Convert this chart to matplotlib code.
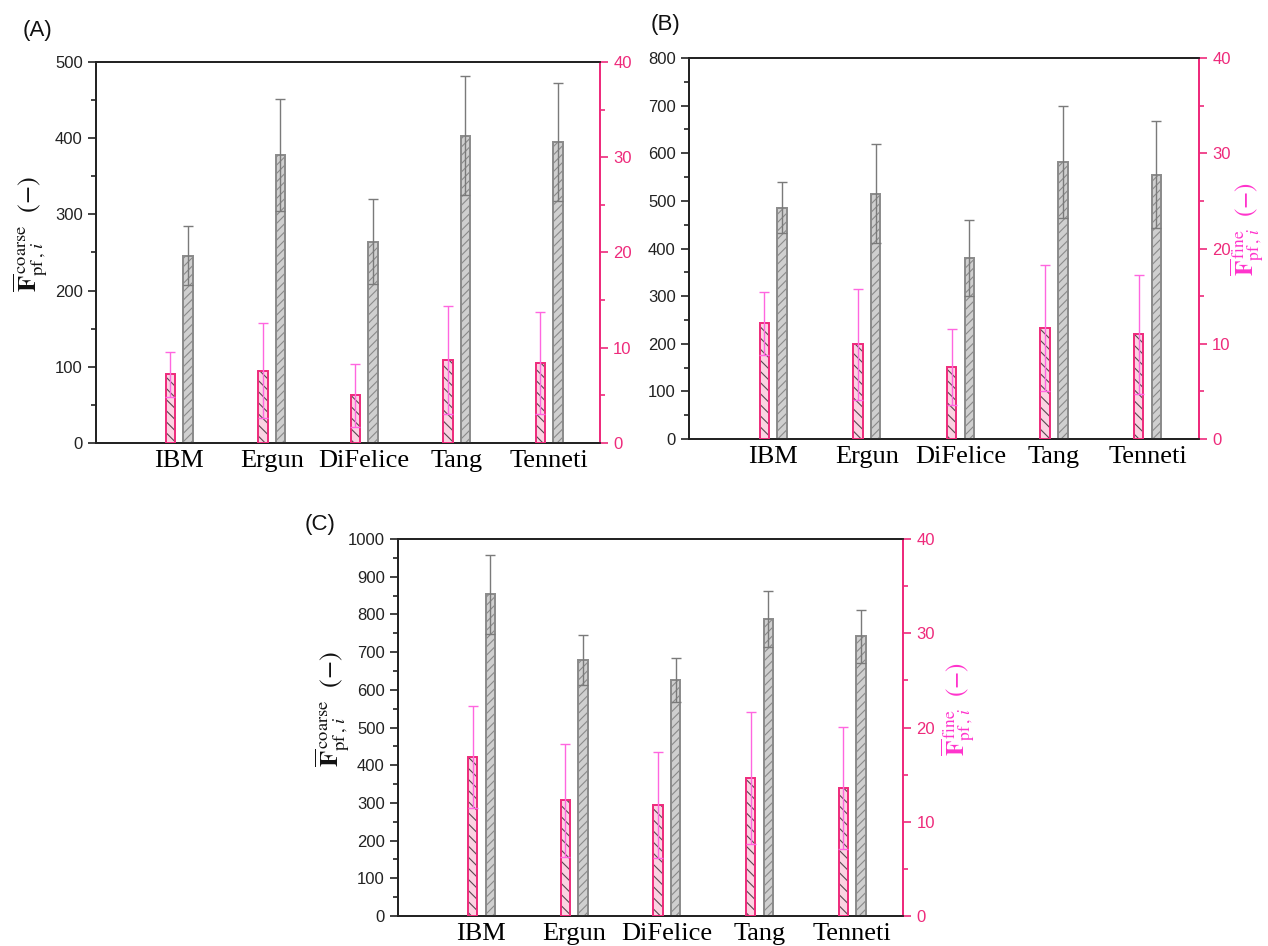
import matplotlib
matplotlib.use("Agg")
import matplotlib.pyplot as plt
import numpy as np

plt.rcParams["mathtext.fontset"] = "stix"
plt.rcParams["font.family"] = ["Liberation Sans", "DejaVu Sans"]
plt.rcParams["hatch.linewidth"] = 0.8

models = ["IBM", "Ergun", "DiFelice", "Tang", "Tenneti"]

# (A) coarse (left axis) and fine (right axis) forces
coarse_a = [246, 378, 264, 403, 395]
coarse_a_err = [39, 74, 56, 78, 77]
fine_a = [7.2, 7.6, 5.0, 8.7, 8.4]
fine_a_err = [2.4, 5.0, 3.3, 5.7, 5.4]

# (B)
coarse_b = [486, 515, 380, 582, 555]
coarse_b_err = [54, 104, 79, 118, 112]
fine_b = [12.15, 9.95, 7.55, 11.65, 11.0]
fine_b_err = [3.3, 5.8, 4.0, 6.6, 6.25]

# (C)
coarse_c = [853, 680, 627, 788, 742]
coarse_c_err = [104, 66, 58, 74, 71]
fine_c = [16.9, 12.3, 11.8, 14.6, 13.6]
fine_c_err = [5.4, 6.0, 5.6, 7.0, 6.5]

left_limits = [500, 800, 1000]
right_limit = 40

PINK = "#EE2A7B"
PINK_FILL = "#FBD3E2"
PINK_HATCH = "#5a4650"
PINK_ERR = "#FF66E0"
GRAY_FILL = "#cfcfcf"
GRAY_HATCH = "#8a8a8a"
GRAY_EDGE = "#8a8a8a"
GRAY_ERR = "#7a7a7a"

coarse_label = r"$\overline{\mathbf{F}}_{\mathrm{pf}\,,\,\mathit{i}}^{\,\mathrm{coarse}}\ \ (-)$"
fine_label = r"$\overline{\mathbf{F}}_{\mathrm{pf}\,,\,\mathit{i}}^{\,\mathrm{fine}}\ \ (-)$"

fig = plt.figure(figsize=(12.68, 9.46), dpi=100)


def hatched_bars(ax, x, h, fill, hatch, hatch_color, edge):
    ax.bar(x, h, width=0.1, color=fill, edgecolor=hatch_color, linewidth=0,
           hatch=hatch, zorder=2)
    ax.bar(x, h, width=0.1, facecolor="none", edgecolor=edge, linewidth=1.4,
           zorder=3)


def panel(rect, tag, tag_xy, coarse, coarse_err, fine, fine_err, ymax,
          left_label=True, right_label=True, right_label_x=1.072):
    ax = fig.add_axes(rect)
    ax2 = ax.twinx()
    x = np.arange(1, len(models) + 1)

    hatched_bars(ax, x + 0.095, coarse, GRAY_FILL, "////", GRAY_HATCH, GRAY_EDGE)
    ax.errorbar(x + 0.095, coarse, yerr=coarse_err, fmt="none", ecolor=GRAY_ERR,
                elinewidth=1.0, capsize=3.5, capthick=1.0, zorder=4)

    hatched_bars(ax2, x - 0.095, fine, PINK_FILL, "\\\\\\", PINK_HATCH, PINK)
    ax2.errorbar(x - 0.095, fine, yerr=fine_err, fmt="none", ecolor=PINK_ERR,
                 elinewidth=1.0, capsize=3.5, capthick=1.0, zorder=4)

    ax.set_xlim(0.1, 5.55)
    ax.set_ylim(0, ymax)
    ax2.set_ylim(0, right_limit)

    ax.set_xticks(x)
    ax.set_xticklabels(models, family="Liberation Serif", fontsize=19)
    ax.tick_params(axis="x", length=0, pad=5)

    ax.set_yticks(np.arange(0, ymax + 1, 100))
    ax.set_yticks(np.arange(50, ymax, 100), minor=True)
    ax.tick_params(axis="y", which="major", direction="out", length=6,
                   width=1.2, labelsize=12, colors="#222222")
    ax.tick_params(axis="y", which="minor", direction="out", length=3.5,
                   width=1.2, colors="#222222")

    ax2.set_yticks(np.arange(0, right_limit + 1, 10))
    ax2.set_yticks(np.arange(5, right_limit, 10), minor=True)
    ax2.tick_params(axis="y", which="major", direction="out", length=6,
                    width=1.2, labelsize=12, colors=PINK)
    ax2.tick_params(axis="y", which="minor", direction="out", length=3.5,
                    width=1.2, colors=PINK)

    for a in (ax, ax2):
        for s in ("left", "bottom", "top"):
            a.spines[s].set_color("#222222")
            a.spines[s].set_linewidth(1.3)
        a.spines["right"].set_color(PINK)
        a.spines["right"].set_linewidth(1.3)

    if left_label:
        ax.set_ylabel(coarse_label, fontsize=19, color="#111111")
        ax.yaxis.set_label_coords(-0.092, 0.55)
    if right_label:
        ax2.set_ylabel(fine_label, fontsize=18, color="#FF33CC", rotation=90)
        ax2.yaxis.set_label_coords(right_label_x, 0.55)

    ax.text(tag_xy[0], tag_xy[1], tag, transform=ax.transAxes, fontsize=16,
            ha="left", va="bottom", color="#111111")
    return ax, ax2


panel([0.0757, 0.5317, 0.3975, 0.4028], "(A)", (-0.145, 1.055),
      coarse_a, coarse_a_err, fine_a, fine_a_err, left_limits[0],
      left_label=True, right_label=False)
panel([0.5434, 0.5359, 0.4022, 0.4028], "(B)", (-0.076, 1.06),
      coarse_b, coarse_b_err, fine_b, fine_b_err, left_limits[1],
      left_label=False, right_label=True, right_label_x=1.058)
panel([0.3139, 0.0317, 0.3983, 0.3985], "(C)", (-0.184, 1.01),
      coarse_c, coarse_c_err, fine_c, fine_c_err, left_limits[2],
      left_label=True, right_label=True, right_label_x=1.072)

fig.savefig("out.png", dpi=100, facecolor="white")
